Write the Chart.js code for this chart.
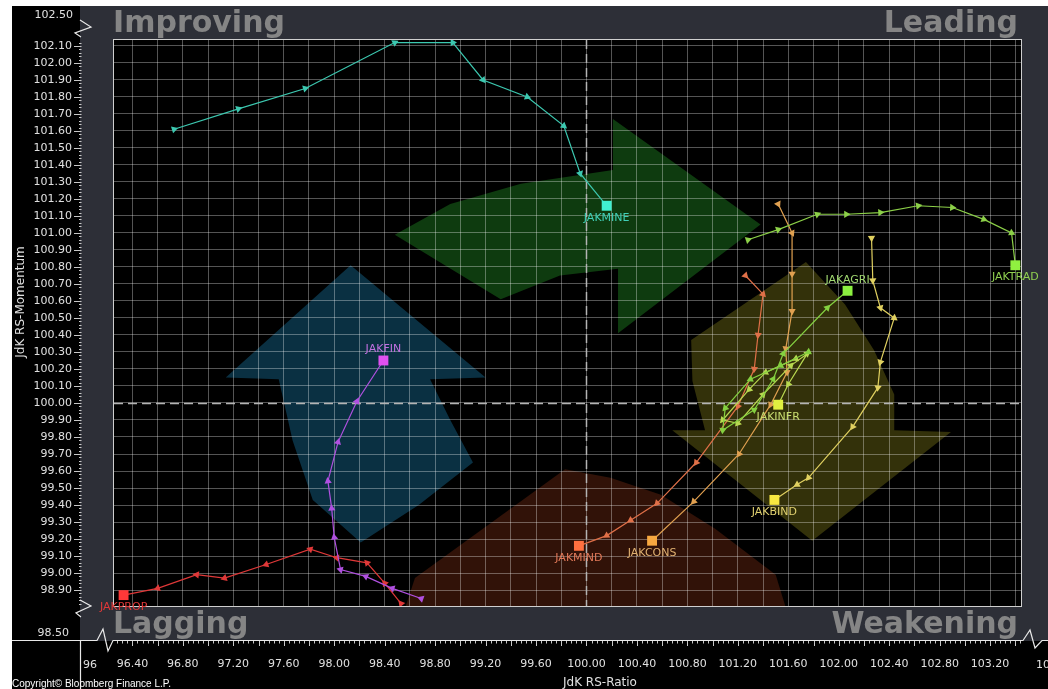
<!DOCTYPE html>
<html>
<head>
<meta charset="utf-8">
<script src="https://cdn.jsdelivr.net/npm/chart.js@4.4.0/dist/chart.umd.min.js"></script>
<style>
  html, body { margin: 0; padding: 0; background: #fff; }
  #wrap { width: 1048px; height: 689px; position: relative; }
</style>
</head>
<body>
<div id="wrap"><canvas id="rrg"></canvas></div>
<script>
// JdK RS-Ratio (x) / RS-Momentum (y), oldest -> latest
const tickers = ['JAKMINE', 'JAKTRAD', 'JAKAGRI', 'JAKINFR', 'JAKBIND', 'JAKCONS', 'JAKMIND', 'JAKFIN', 'JAKPROP'];

const mineRatio = [96.73, 97.24, 97.77, 98.48, 98.94, 99.18, 99.53, 99.82, 99.95, 100.16];
const mineMom   = [101.61, 101.73, 101.85, 102.12, 102.12, 101.90, 101.80, 101.63, 101.35, 101.16];

const tradRatio = [101.28, 101.52, 101.83, 102.06, 102.33, 102.63, 102.90, 103.15, 103.37, 103.40];
const tradMom   = [100.96, 101.02, 101.11, 101.11, 101.12, 101.16, 101.15, 101.08, 101.00, 100.81];

const agriRatio = [101.76, 101.54, 101.30, 101.10, 101.08, 101.33, 101.48, 101.56, 101.91, 102.07];
const agriMom   = [100.30, 100.22, 100.14, 99.97, 99.84, 99.96, 100.14, 100.29, 100.56, 100.66];

const infrRatio = [101.66, 101.42, 101.29, 101.08, 101.20, 101.40, 101.62, 101.75, 101.60, 101.52];
const infrMom   = [100.26, 100.18, 100.08, 99.90, 99.88, 100.05, 100.22, 100.29, 100.11, 99.99];

const bindRatio = [102.26, 102.27, 102.33, 102.44, 102.33, 102.31, 102.11, 101.76, 101.67, 101.49];
const bindMom   = [100.97, 100.72, 100.56, 100.50, 100.24, 100.09, 99.86, 99.56, 99.52, 99.43];

const consRatio = [101.52, 101.63, 101.63, 101.63, 101.58, 101.59, 101.46, 101.21, 100.85, 100.52];
const consMom   = [101.17, 101.00, 100.76, 100.54, 100.32, 100.18, 99.99, 99.70, 99.42, 99.19];

const mindRatio = [101.26, 101.40, 101.36, 101.33, 101.20, 100.87, 100.56, 100.35, 100.16, 99.94];
const mindMom   = [100.75, 100.64, 100.40, 100.20, 99.98, 99.65, 99.41, 99.31, 99.22, 99.16];

const finRatio  = [98.69, 98.46, 98.25, 98.05, 98.00, 97.98, 97.95, 98.03, 98.18, 98.39];
const finMom    = [98.85, 98.91, 98.98, 99.02, 99.21, 99.38, 99.54, 99.77, 100.01, 100.25];

const propRatio = [98.53, 98.40, 98.26, 98.02, 97.81, 97.46, 97.13, 96.91, 96.60, 96.33];
const propMom   = [98.82, 98.94, 99.06, 99.09, 99.14, 99.05, 98.97, 98.99, 98.91, 98.87];

const ratioSeries = [mineRatio, tradRatio, agriRatio, infrRatio, bindRatio, consRatio, mindRatio, finRatio, propRatio];
const momSeries   = [mineMom, tradMom, agriMom, infrMom, bindMom, consMom, mindMom, finMom, propMom];

// visible axis window (the axis is broken outside it)
const ratioRange = [96.254, 103.445];
const momRange = [98.806, 102.135];
const yBreakLabels = ['102.50', '98.50'];
const xBreakLabels = ['96', '104'];

// styles
const seriesStyle = {
  JAKMINE: { line: '#3cc8b0', mark: '#40f0d0', text: '#40d0b8', place: 'below' },
  JAKTRAD: { line: '#8cd048', mark: '#90f040', text: '#90d050', place: 'below' },
  JAKAGRI: { line: '#84d040', mark: '#8cf040', text: '#a0d870', place: 'above' },
  JAKINFR: { line: '#b8d850', mark: '#e0f040', text: '#c8dc70', place: 'below' },
  JAKBIND: { line: '#e0d060', mark: '#f8e840', text: '#e0d070', place: 'below' },
  JAKCONS: { line: '#e0a050', mark: '#f8a840', text: '#e0b070', place: 'below' },
  JAKMIND: { line: '#e07048', mark: '#ff7040', text: '#e07858', place: 'below' },
  JAKFIN:  { line: '#b050e0', mark: '#e050f0', text: '#c070e0', place: 'above' },
  JAKPROP: { line: '#e03838', mark: '#ff3838', text: '#e03838', place: 'below' }
};

// background rotation arrows, in axis units
const rotationArrows = [
  { fill: '#0e3b0f', pts: [[98.48,100.99],[98.92,101.17],[99.48,101.29],[100.21,101.37],[100.21,101.67],[101.38,101.05],[100.25,100.41],[100.25,100.79],[99.79,100.75],[99.32,100.61]] },
  { fill: '#33310a', pts: [[100.83,100.37],[101.74,100.83],[102.05,100.58],[102.28,100.31],[102.44,100.05],[102.44,99.84],[102.89,99.83],[101.79,99.19],[100.68,99.84],[100.94,99.84],[100.84,100.13]] },
  { fill: '#311208', pts: [[98.64,98.97],[99.83,99.61],[100.19,99.56],[100.59,99.46],[101.02,99.26],[101.50,98.99],[101.62,98.70],[98.52,98.70]] },
  { fill: '#0a3042', pts: [[98.13,100.81],[99.20,100.15],[98.76,100.14],[98.92,99.90],[99.10,99.65],[98.67,99.40],[98.21,99.18],[97.83,99.43],[97.67,99.78],[97.56,100.14],[97.14,100.15]] }
];

const FONT = '"DejaVu Sans", sans-serif';

const datasets = tickers.map((name, s) => {
  const st = seriesStyle[name];
  const pts = ratioSeries[s].map((x, i) => ({ x: x, y: momSeries[s][i] }));
  const last = pts.length - 1;
  return {
    label: name,
    data: pts,
    showLine: true,
    borderColor: st.line,
    borderWidth: 1.2,
    pointStyle: ctx => ctx.dataIndex === last ? 'rect' : 'triangle',
    pointRadius: ctx => ctx.dataIndex === last ? 7 : 4.2,
    pointBackgroundColor: ctx => ctx.dataIndex === last ? st.mark : st.line,
    pointBorderWidth: 0,
    pointRotation: ctx => {
      const i = ctx.dataIndex;
      if (i === last) return 0;
      const a = i === 0 ? 0 : i - 1, b = i === 0 ? 1 : i;
      const xs = ctx.chart.scales.x, ys = ctx.chart.scales.y;
      const dx = xs.getPixelForValue(pts[b].x) - xs.getPixelForValue(pts[a].x);
      const dy = ys.getPixelForValue(pts[b].y) - ys.getPixelForValue(pts[a].y);
      return Math.atan2(dx, -dy) * 180 / Math.PI;
    }
  };
});

const backdrop = {
  id: 'backdrop',
  beforeDraw(chart) {
    const { ctx, chartArea: a, width, height } = chart;
    const xs = chart.scales.x, ys = chart.scales.y;
    ctx.save();
    ctx.fillStyle = '#ffffff';
    ctx.fillRect(0, 0, width, height);
    ctx.fillStyle = '#2d2f37';
    ctx.fillRect(80, 6, width - 80, 635);

    ctx.font = 'bold 30px ' + FONT;
    ctx.fillStyle = '#858585';
    ctx.textBaseline = 'alphabetic';
    ctx.textAlign = 'left';
    ctx.fillText('Improving', a.left - 1, 32);
    ctx.fillText('Lagging', a.left - 1, 633);
    ctx.textAlign = 'right';
    ctx.fillText('Leading', a.right - 3, 32);
    ctx.fillText('Weakening', a.right - 3, 633);

    ctx.fillStyle = '#000000';
    ctx.fillRect(12, 6, 68, height - 6);
    ctx.fillRect(12, 641, width - 12, height - 641);
    ctx.fillRect(a.left, a.top, a.right - a.left, a.bottom - a.top);

    ctx.beginPath();
    ctx.rect(a.left, a.top, a.right - a.left, a.bottom - a.top);
    ctx.clip();
    rotationArrows.forEach(arr => {
      ctx.beginPath();
      arr.pts.forEach((p, i) => {
        const px = xs.getPixelForValue(p[0]), py = ys.getPixelForValue(p[1]);
        if (i === 0) ctx.moveTo(px, py); else ctx.lineTo(px, py);
      });
      ctx.closePath();
      ctx.fillStyle = arr.fill;
      ctx.fill();
    });
    ctx.restore();
  },
  beforeDatasetsDraw(chart) {
    const { ctx, chartArea: a } = chart;
    const xs = chart.scales.x, ys = chart.scales.y;
    ctx.save();
    ctx.strokeStyle = '#b4b4b4';
    ctx.lineWidth = 1.5;
    ctx.setLineDash([9, 5]);
    const cx = Math.round(xs.getPixelForValue(100)) + 0.5;
    const cy = Math.round(ys.getPixelForValue(100)) + 0.5;
    ctx.beginPath();
    ctx.moveTo(cx, a.top); ctx.lineTo(cx, a.bottom);
    ctx.moveTo(a.left, cy); ctx.lineTo(a.right, cy);
    ctx.stroke();
    ctx.setLineDash([]);
    ctx.strokeStyle = '#cfcfcf';
    ctx.lineWidth = 1;
    ctx.strokeRect(a.left - 0.5, a.top - 0.5, a.right - a.left + 1, a.bottom - a.top + 1);
    ctx.restore();
  },
  afterDatasetsDraw(chart) {
    const { ctx } = chart;
    ctx.save();
    ctx.font = '11px ' + FONT;
    ctx.textAlign = 'center';
    ctx.textBaseline = 'middle';
    chart.data.datasets.forEach((ds, i) => {
      const meta = chart.getDatasetMeta(i);
      const el = meta.data[meta.data.length - 1];
      const st = seriesStyle[ds.label];
      ctx.fillStyle = st.text;
      ctx.fillText(ds.label, el.x, st.place === 'above' ? el.y - 11 : el.y + 12);
    });
    ctx.restore();
  },
  afterDraw(chart) {
    const { ctx, width, height } = chart;
    const xs = chart.scales.x, ys = chart.scales.y;
    ctx.save();
    ctx.strokeStyle = '#c8c8c8';
    ctx.lineWidth = 1;
    ctx.beginPath();
    // y ruler
    for (let k = Math.ceil(momRange[0] * 50); k <= Math.floor(momRange[1] * 50); k++) {
      const y = Math.round(ys.getPixelForValue(k / 50)) + 0.5;
      ctx.moveTo(k % 5 === 0 ? 74 : 79, y);
      ctx.lineTo(81.5, y);
    }
    // x ruler
    for (let k = Math.ceil(ratioRange[0] * 25); k <= Math.floor(ratioRange[1] * 25); k++) {
      const x = Math.round(xs.getPixelForValue(k / 25)) + 0.5;
      ctx.moveTo(x, 641);
      ctx.lineTo(x, k % 5 === 0 ? 646 : 643.5);
    }
    ctx.stroke();

    ctx.strokeStyle = '#e8e8e8';
    ctx.lineWidth = 1.2;
    ctx.beginPath();
    // axis lines with break marks
    ctx.moveTo(12, 640.5); ctx.lineTo(97, 640.5); ctx.lineTo(103, 629); ctx.lineTo(108, 651); ctx.lineTo(113, 640.5);
    ctx.lineTo(1023, 640.5); ctx.lineTo(1030, 630); ctx.lineTo(1035, 648); ctx.lineTo(1042, 640.5); ctx.lineTo(width, 640.5);
    ctx.moveTo(80.5, 641); ctx.lineTo(80.5, height);
    ctx.moveTo(80, 20); ctx.lineTo(91, 27); ctx.lineTo(75, 33); ctx.lineTo(81, 37);
    ctx.moveTo(80, 600); ctx.lineTo(91, 606); ctx.lineTo(76, 613); ctx.lineTo(81, 617);
    ctx.stroke();

    ctx.fillStyle = '#e0e0e0';
    ctx.font = '11px ' + FONT;
    ctx.textBaseline = 'middle';
    ctx.textAlign = 'right';
    ctx.fillText(yBreakLabels[0], 73, 15);
    ctx.fillText(yBreakLabels[1], 69, 633);
    ctx.textAlign = 'center';
    ctx.fillText(xBreakLabels[0], 90, 665);
    ctx.textAlign = 'left';
    ctx.fillText(xBreakLabels[1], 1036, 665);

    ctx.font = '12px ' + FONT;
    ctx.fillText('JdK RS-Ratio', 563, 683);
    ctx.save();
    ctx.translate(21, 302);
    ctx.rotate(-Math.PI / 2);
    ctx.textAlign = 'center';
    ctx.fillText('JdK RS-Momentum', 0, 0);
    ctx.restore();

    ctx.fillStyle = '#ffffff';
    ctx.font = '10px "Liberation Sans", sans-serif';
    ctx.textAlign = 'left';
    ctx.fillText('Copyright\u00a9 Bloomberg Finance L.P.', 12, 684);
    ctx.restore();
  }
};

// keep the plot frame fixed: no extra room for edge labels
function noEdgePadding(s) {
  s.paddingLeft = 0; s.paddingRight = 0; s.paddingTop = 0; s.paddingBottom = 0;
}

new Chart(document.getElementById('rrg'), {
  type: 'scatter',
  data: { datasets: datasets },
  plugins: [backdrop],
  options: {
    responsive: true,
    maintainAspectRatio: false,
    animation: false,
    events: [],
    layout: { padding: { left: 0, top: 40, right: 27, bottom: 0 } },
    plugins: { legend: { display: false }, tooltip: { enabled: false } },
    scales: {
      x: {
        type: 'linear',
        min: ratioRange[0],
        max: ratioRange[1],
        afterFit: s => { s.height = 83; noEdgePadding(s); },
        border: { display: false },
        grid: { color: 'rgba(255,255,255,0.33)', lineWidth: 1, drawTicks: false },
        ticks: {
          stepSize: 0.2,
          includeBounds: false,
          autoSkip: false,
          maxRotation: 0,
          minRotation: 0,
          padding: 52,
          color: '#e0e0e0',
          font: { family: 'DejaVu Sans', size: 11 },
          callback: v => (Math.round(v * 10) % 4 === 0 ? v.toFixed(2) : '')
        }
      },
      y: {
        type: 'linear',
        min: momRange[0],
        max: momRange[1],
        afterFit: s => { s.width = 114; noEdgePadding(s); },
        border: { display: false },
        grid: { color: 'rgba(255,255,255,0.33)', lineWidth: 1, drawTicks: false },
        ticks: {
          stepSize: 0.1,
          includeBounds: false,
          autoSkip: false,
          padding: 42,
          color: '#e0e0e0',
          font: { family: 'DejaVu Sans', size: 11 },
          callback: v => v.toFixed(2)
        }
      }
    }
  }
});
</script>
</body>
</html>
